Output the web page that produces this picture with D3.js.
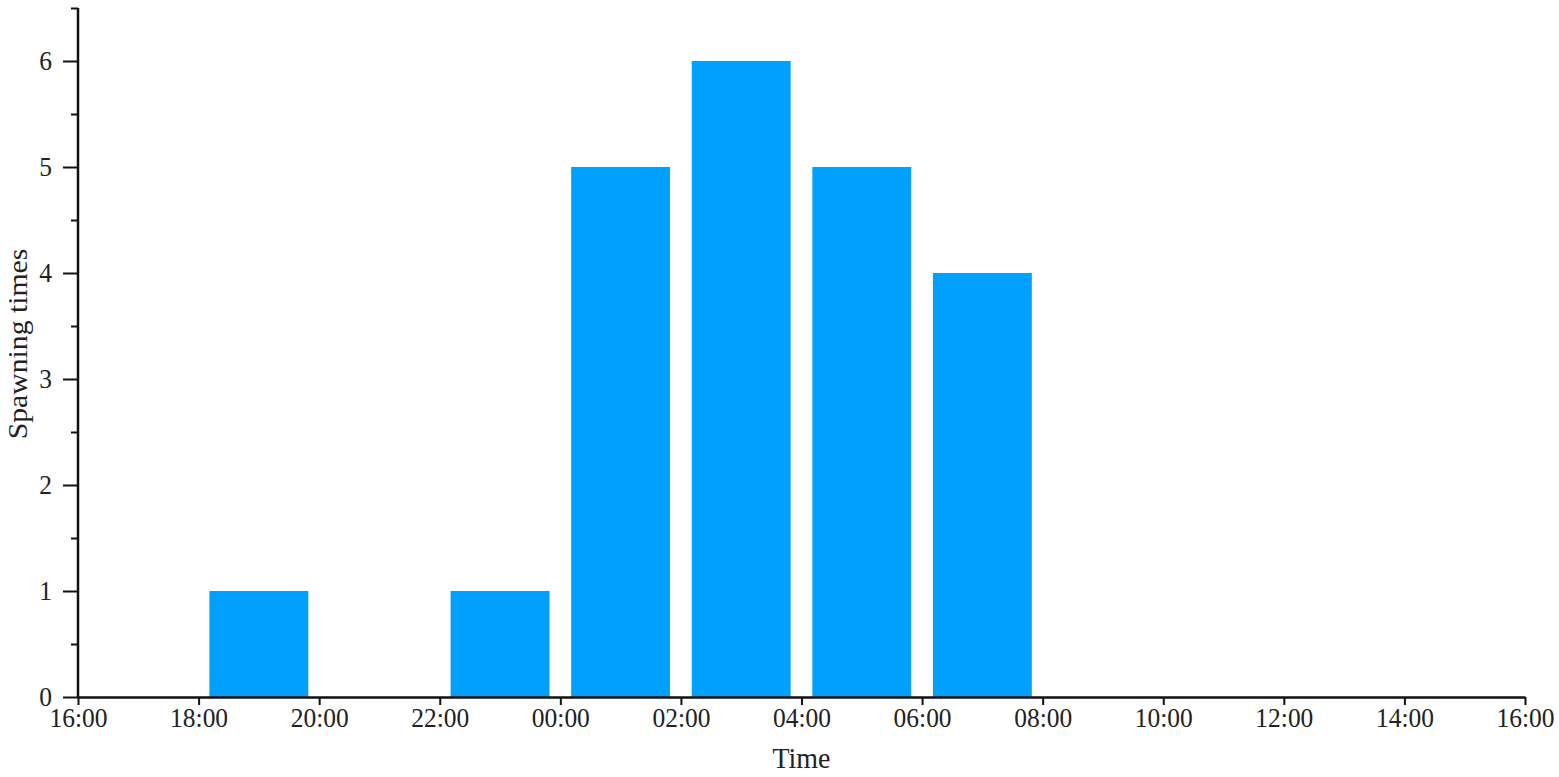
<!DOCTYPE html>
<html>
<head>
<meta charset="utf-8">
<script src="https://cdn.jsdelivr.net/npm/d3@7"></script>
<style>
  html, body { margin: 0; padding: 0; background: #fff; }
  svg { display: block; }
  text { font-family: "Liberation Serif", "Times New Roman", serif; fill: #222; }
</style>
</head>
<body>
<svg id="chart" width="1559" height="777"></svg>
<script>
// ---- data ----
const binStarts = ["18:00", "22:00", "00:00", "02:00", "04:00", "06:00"];
const binHours = 2;
const spawningTimes = [1, 1, 5, 6, 5, 4];
const xTickLabels = ["16:00", "18:00", "20:00", "22:00", "00:00", "02:00", "04:00",
                     "06:00", "08:00", "10:00", "12:00", "14:00", "16:00"];
const yMajorTicks = [0, 1, 2, 3, 4, 5, 6];
const yMinorTicks = [0.5, 1.5, 2.5, 3.5, 4.5, 5.5, 6.5];
const yMax = 6.5;
const xTitle = "Time";
const yTitle = "Spawning times";

// ---- layout ----
const margin = { left: 78, right: 34, top: 8, bottom: 80 };
const W = 1559, H = 777;
const svg = d3.select("#chart");
const x = d3.scaleLinear().domain([0, 24]).range([margin.left, W - margin.right]);
const y = d3.scaleLinear().domain([0, yMax]).range([H - margin.bottom, margin.top]);

const startHour = 16;
const toOffset = s => ((+s.split(":")[0] - startHour) + 24) % 24;

const data = binStarts.map((s, i) => ({ start: toOffset(s), value: spawningTimes[i] }));
const barPad = 0.18; // hours on each side

svg.append("g").selectAll("rect").data(data).join("rect")
  .attr("x", d => x(d.start + barPad))
  .attr("width", d => x(d.start + binHours - barPad) - x(d.start + barPad))
  .attr("y", d => y(d.value))
  .attr("height", d => y(0) - y(d.value))
  .attr("fill", "#00a0fe");

// x axis
const xTickVals = d3.range(0, 25, 2);
const xAxis = d3.axisBottom(x).tickValues(xTickVals)
  .tickFormat((d, i) => xTickLabels[i]).tickSize(8).tickSizeOuter(0);
const gx = svg.append("g").attr("transform", `translate(0,${y(0)})`).call(xAxis);
gx.select(".domain").attr("stroke", "#111").attr("stroke-width", 2.5);
gx.selectAll(".tick line").attr("stroke", "#111").attr("stroke-width", 2);
gx.selectAll(".tick text").attr("font-size", 25.5).attr("y", 0).attr("dy", 0)
  .attr("transform", "translate(0,30) scale(1,1.1)");

// y axis major
const yAxis = d3.axisLeft(y).tickValues(yMajorTicks).tickFormat(d3.format("d"))
  .tickSize(15).tickSizeOuter(0).tickPadding(11);
const gy = svg.append("g").attr("transform", `translate(${x(0)},0)`).call(yAxis);
gy.select(".domain").attr("stroke", "#111").attr("stroke-width", 2.5)
  .attr("d", `M0,${y(0)}V${y(yMax)}`);
gy.selectAll(".tick line").attr("stroke", "#111").attr("stroke-width", 2);
gy.selectAll(".tick text").attr("font-size", 25.5).attr("transform", "scale(1,1.1)");

// y axis minor
const yAxisMinor = d3.axisLeft(y).tickValues(yMinorTicks).tickFormat("").tickSize(7).tickSizeOuter(0);
const gym = svg.append("g").attr("transform", `translate(${x(0)},0)`).call(yAxisMinor);
gym.select(".domain").remove();
gym.selectAll(".tick line").attr("stroke", "#111").attr("stroke-width", 2);

// titles
svg.append("text").attr("transform", `translate(${(x(0) + x(24)) / 2},768) scale(1,1.08)`)
  .attr("text-anchor", "middle").attr("font-size", 28).text(xTitle);
svg.append("text").attr("transform", `translate(27,344) rotate(-90) scale(1.1,1)`)
  .attr("text-anchor", "middle").attr("font-size", 27).text(yTitle);
</script>
</body>
</html>
